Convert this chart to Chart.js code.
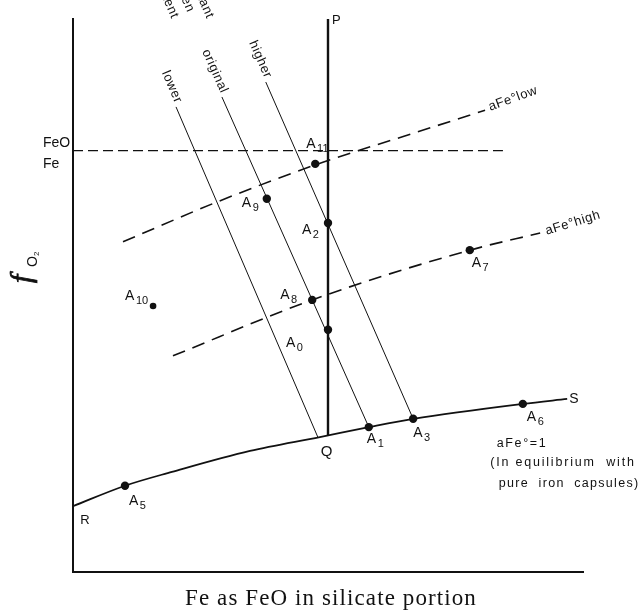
<!DOCTYPE html>
<html><head><meta charset="utf-8">
<script src="https://cdn.jsdelivr.net/npm/chart.js@4/dist/chart.umd.min.js"></script>
<style>html,body{margin:0;padding:0;background:#fff}#wrap{width:641px;height:612px}</style>
</head><body><div id="wrap"><canvas id="c" width="641" height="612"></canvas></div>
<script>
// Schematic units: x and y both run 0..100
const rsCurveX = [0, 10.2, 19.4, 34.7, 48.4, 58.0, 66.7, 88.2, 96.9];
const rsCurveY = [11.9, 15.6, 18.1, 21.9, 24.4, 26.2, 27.7, 30.4, 31.3];
const pqLineX = [50, 50];
const pqLineY = [24.7, 100];
const lowerX = [20.2, 48.0];
const lowerY = [84.1, 24.4];
const originalX = [29.2, 58.0];
const originalY = [85.9, 26.2];
const higherX = [37.8, 66.7];
const higherY = [88.6, 27.7];
const feoFeX = [0, 84.3];
const feoFeY = [76.2, 76.2];
const aFeLowX = [9.8, 28.2, 49.0, 64.9, 80.8];
const aFeLowY = [59.7, 66.9, 74.1, 78.8, 83.5];
const aFeHighX = [19.6, 46.9, 77.8, 91.6];
const aFeHighY = [39.1, 49.2, 58.2, 61.3];
const pointNames = ['A0','A1','A2','A3','A5','A6','A7','A8','A9','A10','A11'];
const pointX = [50.0, 58.0, 50.0, 66.7, 10.2, 88.2, 77.8, 46.9, 38.0, 15.7, 47.5];
const pointY = [43.8, 26.2, 63.1, 27.7, 15.6, 30.4, 58.2, 49.2, 67.5, 48.1, 73.8];
const contentLabels = ['lower', 'original', 'higher'];
const cutLabels = ['constant', 'oxygen', 'content'];
const xTitle = 'Fe as FeO in silicate portion';

const zip = (xs, ys) => xs.map((x, i) => ({x, y: ys[i]}));

// label placement (pixel offsets from each point)
const labelOffsets = {A0:[-42,17], A1:[-2,16], A2:[-26,10.5], A3:[0,18], A5:[4,19], A6:[4,17],
  A7:[2,17], A8:[-32,-1], A9:[-25,8], A10:[-28,-6], A11:[-9,-16]};

const SANS = '"Liberation Sans", Arial, sans-serif';
const SERIF = '"Liberation Serif", "Times New Roman", serif';

const textPlugin = {
  id: 'texts',
  afterDatasetsDraw(chart) {
    const ctx = chart.ctx;
    const xs = chart.scales.x, ys = chart.scales.y;
    const X = v => xs.getPixelForValue(v), Y = v => ys.getPixelForValue(v);
    ctx.save();
    ctx.fillStyle = '#111';
    ctx.strokeStyle = '#111';
    // point labels
    pointNames.forEach((n, i) => {
      const [dx, dy] = labelOffsets[n];
      const px = X(pointX[i]) + dx, py = Y(pointY[i]) + dy;
      ctx.font = '14px ' + SANS;
      ctx.textAlign = 'left'; ctx.textBaseline = 'alphabetic';
      ctx.fillText('A', px, py);
      const w = ctx.measureText('A').width;
      ctx.font = '11px ' + SANS;
      ctx.fillText(n.slice(1), px + w + 1.5, py + 4);
    });
    // simple labels
    const simple = [
      ['P', 50.8, 99.1, 13], ['Q', 48.6, 21.0, 15], ['R', 1.4, 8.7, 13], ['S', 97.3, 30.6, 14],
      ['FeO', -5.9, 76.9, 14], ['Fe', -5.9, 73.1, 14]
    ];
    simple.forEach(([t, x, y, s]) => {
      ctx.font = s + 'px ' + SANS;
      ctx.fillText(t, X(x), Y(y));
    });
    // note text
    ctx.font = '12.5px ' + SANS;
    ctx.letterSpacing = '1.6px';
    ctx.fillText('aFe°=1', X(83.1), Y(22.6));
    ctx.letterSpacing = '1.8px';
    ctx.fillText('(In equilibrium  with', X(81.8), Y(19.2));
    ctx.letterSpacing = '1.3px';
    ctx.fillText('pure  iron  capsules)', X(83.5), Y(15.4));
    ctx.letterSpacing = '0.6px';
    // aFe labels
    const rot = (t, x, y, ang, align) => {
      ctx.save(); ctx.translate(x, y); ctx.rotate(ang);
      ctx.textAlign = align || 'left'; ctx.fillText(t, 0, 0); ctx.restore();
    };
    ctx.font = '13px ' + SANS;
    rot('aFe°low', X(81.8), Y(83.4), -20 * Math.PI / 180);
    rot('aFe°high', X(92.9), Y(61.0), -17 * Math.PI / 180);
    // constant oxygen content labels
    const lines = [[lowerX, lowerY], [originalX, originalY], [higherX, higherY]];
    ctx.font = '13px ' + SANS;
    ctx.textBaseline = 'middle';
    lines.forEach(([lx, ly], i) => {
      const x1 = X(lx[0]), y1 = Y(ly[0]), x2 = X(lx[1]), y2 = Y(ly[1]);
      const a = Math.atan2(y2 - y1, x2 - x1);
      const d = [Math.cos(a), Math.sin(a)];
      ctx.save(); ctx.translate(x1 - 3 * d[0], y1 - 3 * d[1]); ctx.rotate(a);
      ctx.textAlign = 'right'; ctx.fillText(contentLabels[i], 0, -4); ctx.restore();
    });
    const a0 = Math.atan2(Y(lowerY[1]) - Y(lowerY[0]), X(lowerX[1]) - X(lowerX[0]));
    const cutPos = [[26.9, 100.2], [23.1, 101.3], [20.0, 100.2]];
    cutLabels.forEach((t, i) => {
      ctx.save(); ctx.translate(X(cutPos[i][0]), Y(cutPos[i][1])); ctx.rotate(a0);
      ctx.textAlign = 'right'; ctx.fillText(t, 0, 0); ctx.restore();
    });
    ctx.textBaseline = 'alphabetic';
    // axis titles
    ctx.letterSpacing = '1.1px';
    ctx.font = '23px ' + SERIF;
    ctx.textAlign = 'center';
    ctx.fillText(xTitle, 331, 605);
    ctx.letterSpacing = '0px';
    ctx.save(); ctx.translate(31, 283); ctx.rotate(-Math.PI / 2);
    ctx.textAlign = 'left';
    ctx.font = 'italic 30px ' + SERIF;
    ctx.lineWidth = 0.8;
    ctx.fillText('f', 0, 0);
    ctx.strokeText('f', 0, 0);
    ctx.font = '14px ' + SANS;
    ctx.fillText('O', 16, 6);
    ctx.font = '8px ' + SANS;
    ctx.fillText('2', 27, 8);
    ctx.restore();
    ctx.restore();
  }
};

const lineDs = (xs, ys, w, extra) => Object.assign({
  data: zip(xs, ys), showLine: true, borderColor: '#111', borderWidth: w,
  pointRadius: 0, fill: false
}, extra || {});

new Chart(document.getElementById('c'), {
  type: 'scatter',
  data: { datasets: [
    { data: zip(pointX, pointY), pointRadius: pointNames.map(n => n === 'A10' ? 3.3 : 4.2),
      pointBackgroundColor: '#111', pointBorderColor: '#111', pointBorderWidth: 0, showLine: false },
    lineDs(rsCurveX, rsCurveY, 1.8, { cubicInterpolationMode: 'monotone' }),
    lineDs(pqLineX, pqLineY, 2.4),
    lineDs(lowerX, lowerY, 1),
    lineDs(originalX, originalY, 1),
    lineDs(higherX, higherY, 1),
    lineDs(feoFeX, feoFeY, 1.2, { borderDash: [10, 5] }),
    lineDs(aFeLowX, aFeLowY, 1.6, { borderDash: [13, 8], cubicInterpolationMode: 'monotone' }),
    lineDs(aFeHighX, aFeHighY, 1.6, { borderDash: [13, 8], cubicInterpolationMode: 'monotone' })
  ]},
  options: {
    responsive: false, animation: false,
    layout: { padding: { left: 73, top: 19, right: 58, bottom: 40 } },
    plugins: { legend: { display: false }, tooltip: { enabled: false } },
    scales: {
      x: { type: 'linear', min: 0, max: 100, grid: { display: false, drawTicks: false },
        ticks: { display: false }, border: { display: true, color: '#111', width: 2 } },
      y: { type: 'linear', min: 0, max: 100, grid: { display: false, drawTicks: false },
        ticks: { display: false }, border: { display: true, color: '#111', width: 2 } }
    }
  },
  plugins: [textPlugin]
});
</script></body></html>
